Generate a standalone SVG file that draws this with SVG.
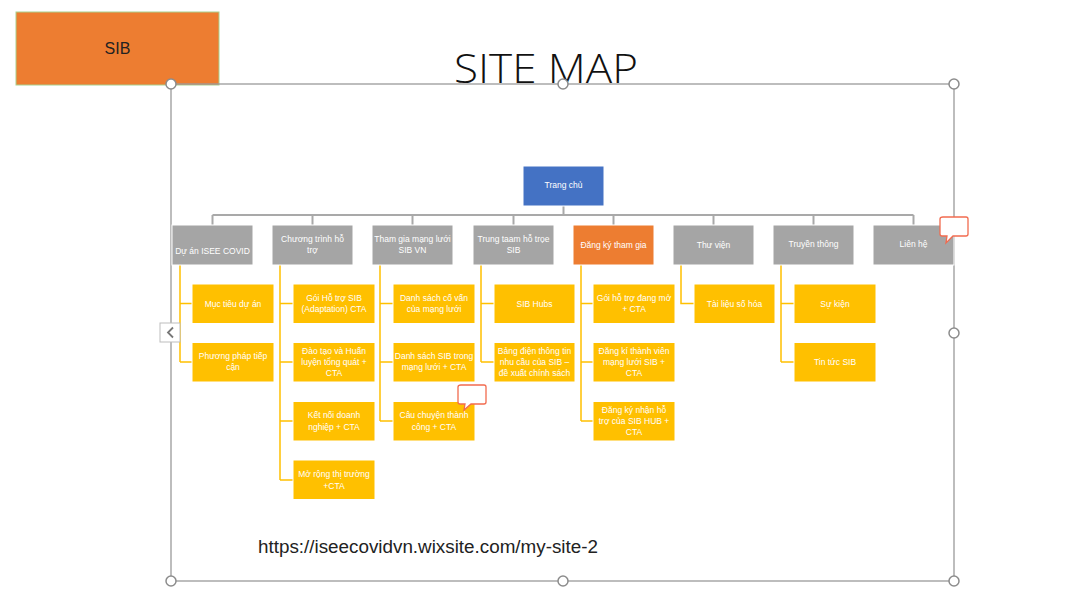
<svg xmlns="http://www.w3.org/2000/svg" width="1067" height="592" viewBox="0 0 1067 592">
<style>
.t{font-family:"Liberation Sans",Arial,sans-serif;font-size:8.5px;fill:#fff;text-anchor:middle}
.l1{fill:#A5A5A5;stroke:#fff;stroke-width:1}
.l2{fill:#FFC000;stroke:#fff;stroke-width:1}
.gc{fill:none;stroke:#A9A9A9;stroke-width:2}
.yc{fill:none;stroke:#FFC000;stroke-width:1.5}
.h{fill:#fff;stroke:#8C8C8C;stroke-width:1.5}
.cm{fill:#fff;stroke:#F26B4F;stroke-width:1.3}
</style>
<rect width="1067" height="592" fill="#fff"/>
<g id="sib">
<rect x="16" y="12" width="203" height="73" fill="#ED7D31" stroke="#A9D18E" stroke-width="1"/>
<text x="117.5" y="54" font-family="Liberation Sans,Arial,sans-serif" font-size="16" fill="#222" text-anchor="middle">SIB</text>
</g>
<g id="frame">
<rect x="171" y="84" width="783" height="497" fill="none" stroke="#9A9A9A" stroke-width="1.3"/>
</g>
<text id="title" x="546" y="83" font-family="Open Sans,Liberation Sans,sans-serif" font-weight="300" font-size="40" fill="#111" text-anchor="middle" textLength="184" lengthAdjust="spacingAndGlyphs">SITE MAP</text>
<g id="connectors">
<path class="gc" d="M563.5 206V215M212.5 215H913.5M212.5 215V225M312.5 215V225M412.5 215V225M513.5 215V225M613.5 215V225M713.5 215V225M813.5 215V225M913.5 215V225"/>
<path class="yc" d="M180 265V362M180 303.5H192M180 362H192"/>
<path class="yc" d="M280 265V480M280 303.5H293M280 362H293M280 421H293M280 480H293"/>
<path class="yc" d="M380 265V421M380 303.5H393M380 362H393M380 421H393"/>
<path class="yc" d="M481 265V362M481 303.5H494M481 362H494"/>
<path class="yc" d="M581 265V421M581 303.5H593M581 362H593M581 421H593"/>
<path class="yc" d="M681 265V303.5H694"/>
<path class="yc" d="M781 265V362M781 303.5H794M781 362H794"/>
</g>
<g id="trang-chu">
<rect x="523" y="166" width="81" height="40" fill="#4472C4" stroke="#fff"/>
<text class="t" x="563.5" y="188">Trang chủ</text>
</g>
<g id="du-an">
<rect class="l1" x="172" y="225" width="81" height="40"/>
<text class="t" x="212.5" y="254">Dự án ISEE COVID</text>
</g>
<g id="chuong-trinh">
<rect class="l1" x="272" y="225" width="81" height="40"/>
<text class="t" x="312.5" y="242">Chương trình hỗ</text>
<text class="t" x="312.5" y="253">trợ</text>
</g>
<g id="tham-gia">
<rect class="l1" x="372" y="225" width="81" height="40"/>
<text class="t" x="412.5" y="242">Tham gia mạng lưới</text>
<text class="t" x="412.5" y="253">SIB VN</text>
</g>
<g id="trung-tam">
<rect class="l1" x="473" y="225" width="81" height="40"/>
<text class="t" x="513.5" y="242">Trung taam hỗ trọe</text>
<text class="t" x="513.5" y="253">SIB</text>
</g>
<g id="dang-ky">
<rect x="573" y="225" width="81" height="40" fill="#ED7D31" stroke="#fff"/>
<text class="t" x="613.5" y="248">Đăng ký tham gia</text>
</g>
<g id="thu-vien">
<rect class="l1" x="673" y="225" width="81" height="40"/>
<text class="t" x="713.5" y="248">Thư viện</text>
</g>
<g id="truyen-thong">
<rect class="l1" x="773" y="225" width="81" height="40"/>
<text class="t" x="813.5" y="247">Truyền thông</text>
</g>
<g id="lien-he">
<rect class="l1" x="873" y="225" width="81" height="40"/>
<text class="t" x="913.5" y="247">Liên hệ</text>
</g>
<g id="muc-tieu"><rect class="l2" x="192" y="284" width="82" height="39.5"/><text class="t" x="233" y="306.5">Mục tiêu dự án</text></g>
<g id="phuong-phap"><rect class="l2" x="192" y="342.5" width="82" height="39.5"/><text class="t" x="233" y="359">Phương pháp tiếp</text><text class="t" x="233" y="370">cận</text></g>
<g id="goi-ho-tro-sib"><rect class="l2" x="293" y="284" width="82" height="39.5"/><text class="t" x="334" y="300.5">Gói Hỗ trợ SIB</text><text class="t" x="334" y="312">(Adaptation)  CTA</text></g>
<g id="dao-tao"><rect class="l2" x="293" y="342.5" width="82" height="39.5"/><text class="t" x="334" y="354">Đào tạo và Huấn</text><text class="t" x="334" y="365">luyện tổng quát +</text><text class="t" x="334" y="376">CTA</text></g>
<g id="ket-noi"><rect class="l2" x="293" y="401.5" width="82" height="39.5"/><text class="t" x="334" y="418">Kết nối doanh</text><text class="t" x="334" y="430">nghiệp + CTA</text></g>
<g id="mo-rong"><rect class="l2" x="293" y="460" width="82" height="39.5"/><text class="t" x="334" y="477">Mở rộng thị trường</text><text class="t" x="334" y="489">+CTA</text></g>
<g id="danh-sach-co-van"><rect class="l2" x="393" y="284" width="82" height="39.5"/><text class="t" x="434" y="300.5">Danh sách cố vấn</text><text class="t" x="434" y="312">của mạng lưới</text></g>
<g id="danh-sach-sib"><rect class="l2" x="393" y="342.5" width="82" height="39.5"/><text class="t" x="434" y="359">Danh sách SIB trong</text><text class="t" x="434" y="370">mạng lưới + CTA</text></g>
<g id="cau-chuyen"><rect class="l2" x="393" y="401.5" width="82" height="39.5"/><text class="t" x="434" y="418">Câu chuyện thành</text><text class="t" x="434" y="430">công + CTA</text></g>
<g id="sib-hubs"><rect class="l2" x="494" y="284" width="81" height="39.5"/><text class="t" x="534.5" y="306.5">SIB Hubs</text></g>
<g id="bang-dien"><rect class="l2" x="494" y="342.5" width="81" height="39.5"/><text class="t" x="534.5" y="354">Bảng điện thông tin</text><text class="t" x="534.5" y="365">nhu cầu của SIB –</text><text class="t" x="534.5" y="376">đề xuất chính sách</text></g>
<g id="goi-ho-tro-dang-mo"><rect class="l2" x="593" y="284" width="82" height="39.5"/><text class="t" x="634" y="300.5">Gói hỗ trợ đang mở</text><text class="t" x="634" y="312">+ CTA</text></g>
<g id="dang-ki-thanh-vien"><rect class="l2" x="593" y="342.5" width="82" height="39.5"/><text class="t" x="634" y="354">Đăng kí thành viên</text><text class="t" x="634" y="365">mạng lưới SIB +</text><text class="t" x="634" y="376">CTA</text></g>
<g id="dang-ky-nhan"><rect class="l2" x="593" y="401.5" width="82" height="39.5"/><text class="t" x="634" y="413">Đăng ký nhận hỗ</text><text class="t" x="634" y="424">trợ của SIB HUB +</text><text class="t" x="634" y="435">CTA</text></g>
<g id="tai-lieu"><rect class="l2" x="694" y="284" width="81" height="39.5"/><text class="t" x="734.5" y="306.5">Tài liệu số hóa</text></g>
<g id="su-kien"><rect class="l2" x="794" y="284" width="82" height="39.5"/><text class="t" x="835" y="306.5">Sự kiện</text></g>
<g id="tin-tuc"><rect class="l2" x="794" y="342.5" width="82" height="39.5"/><text class="t" x="835" y="365">Tin tức SIB</text></g>
<g id="comments">
<path class="cm" d="M943 217H966Q968 217 968 219V234Q968 236 966 236H953L946 243L947 236H942Q940 236 940 234V219Q940 217 943 217Z"/>
<path class="cm" d="M461 385H484Q486 385 486 387V402Q486 404 484 404H471L464 410L465 404H460Q458 404 458 402V387Q458 385 461 385Z"/>
</g>
<g id="handles">
<circle class="h" cx="171" cy="84" r="5"/>
<circle class="h" cx="563" cy="84" r="5"/>
<circle class="h" cx="954" cy="84" r="5"/>
<circle class="h" cx="954" cy="333" r="5"/>
<circle class="h" cx="171" cy="581" r="5"/>
<circle class="h" cx="563" cy="581" r="5"/>
<circle class="h" cx="954" cy="581" r="5"/>
<rect x="160" y="323" width="20" height="19" fill="#fff" stroke="#BDBDBD" stroke-width="1"/>
<polyline points="173,327.5 168,332.5 173,337.5" fill="none" stroke="#777" stroke-width="1.8"/>
</g>
<text id="url" x="258" y="553" font-family="Liberation Sans,Arial,sans-serif" font-size="18" fill="#222" textLength="340" lengthAdjust="spacingAndGlyphs">https://iseecovidvn.wixsite.com/my-site-2</text>
</svg>
